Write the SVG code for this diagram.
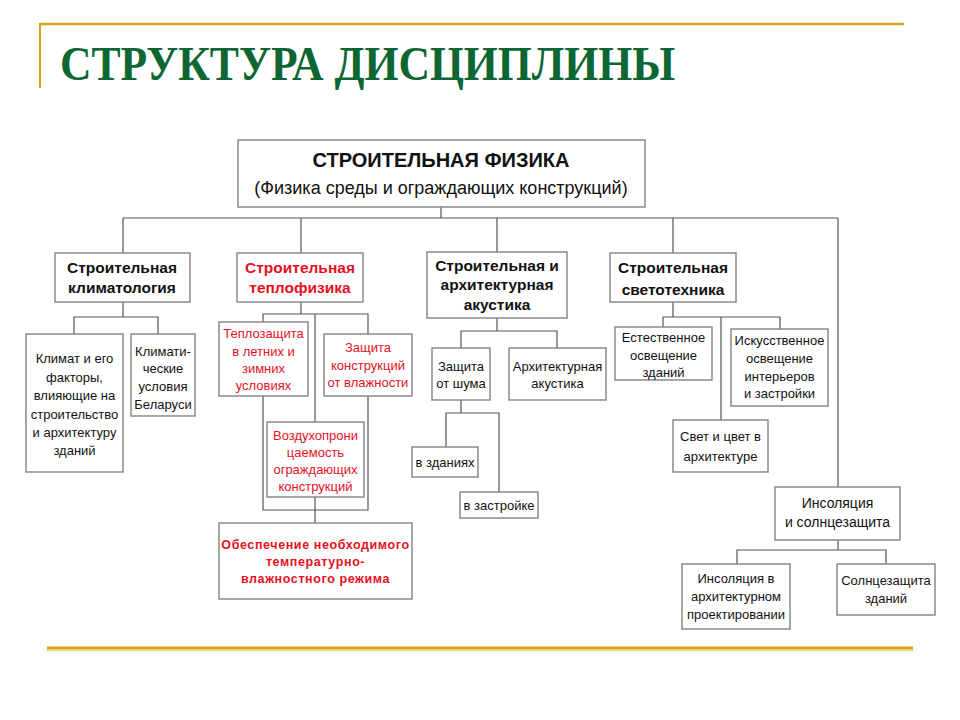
<svg xmlns="http://www.w3.org/2000/svg" width="960" height="720" viewBox="0 0 960 720">
<style>
.box{fill:#fff;stroke:#8a8a8a;stroke-width:1.5}
.t{font-family:"Liberation Sans",Arial,sans-serif;font-size:13px;fill:#111;text-anchor:middle}
.b{font-weight:bold;font-size:15.5px}
.r{fill:#e8101e}
.h1{font-weight:bold;font-size:20px}
.h2{font-size:18px}
.m{font-size:14px}
.rb{font-weight:bold;font-size:12.5px;letter-spacing:0.6px}
.c line,.c polyline{stroke:#555;stroke-width:1.2;fill:none}
</style>
<rect width="960" height="720" fill="#fff"/>
<g id="frame">
<line x1="40" y1="24" x2="904" y2="24" stroke="#d6a21e" stroke-width="2.5"/>
<line x1="40" y1="23" x2="40" y2="88" stroke="#d6a21e" stroke-width="2"/>
<line x1="47" y1="648" x2="913" y2="648" stroke="#d6a21e" stroke-width="3"/>
<line x1="47" y1="650.5" x2="913" y2="650.5" stroke="#f3dc7a" stroke-width="1.5"/>
<text x="60" y="80" font-family="'Liberation Serif','Times New Roman',serif" font-weight="bold" font-size="48" fill="#0d6633" textLength="615" lengthAdjust="spacingAndGlyphs">СТРУКТУРА ДИСЦИПЛИНЫ</text>
</g>
<g class="c" id="connectors">
<line x1="441" y1="207" x2="441" y2="218"/>
<line x1="123" y1="218" x2="838" y2="218"/>
<line x1="123" y1="218" x2="123" y2="253"/>
<line x1="301" y1="218" x2="301" y2="253"/>
<line x1="497" y1="218" x2="497" y2="252"/>
<line x1="673" y1="218" x2="673" y2="253"/>
<line x1="838" y1="218" x2="838" y2="487"/>
<line x1="123" y1="302" x2="123" y2="317"/>
<polyline points="74,334 74,317 158,317 158,334"/>
<line x1="301" y1="302" x2="301" y2="314"/>
<polyline points="263,322 263,314 368,314 368,334"/>
<line x1="315" y1="314" x2="315" y2="422"/>
<polyline points="263,396 263,510 368,510 368,396"/>
<line x1="315" y1="497" x2="315" y2="523"/>
<line x1="497" y1="318" x2="497" y2="331"/>
<polyline points="461,348 461,331 557,331 557,348"/>
<line x1="461" y1="400" x2="461" y2="413"/>
<polyline points="446,447 446,413 499,413 499,492"/>
<line x1="673" y1="302" x2="673" y2="317"/>
<polyline points="663,327 663,317 780,317 780,329"/>
<line x1="721" y1="317" x2="721" y2="420"/>
<line x1="838" y1="540" x2="838" y2="550"/>
<polyline points="737,564 737,550 886,550 886,564"/>
</g>
<g id="root">
<rect class="box" x="238" y="140" width="407" height="67"/>
<text class="t h1" x="441" y="167">СТРОИТЕЛЬНАЯ ФИЗИКА</text>
<text class="t h2" x="441" y="194">(Физика среды и ограждающих конструкций)</text>
</g>
<g id="klimat">
<rect class="box" x="55" y="253" width="135" height="49"/>
<text class="t b" x="122" y="273">Строительная</text>
<text class="t b" x="122" y="293">климатология</text>
</g>
<g id="klimat-factors">
<rect class="box" x="26" y="334" width="97" height="138"/>
<text class="t" x="74.5" y="363">Климат и его</text>
<text class="t" x="74.5" y="382">факторы,</text>
<text class="t" x="74.5" y="400">влияющие на</text>
<text class="t" x="74.5" y="419">строительство</text>
<text class="t" x="74.5" y="437">и архитектуру</text>
<text class="t" x="74.5" y="455">зданий</text>
</g>
<g id="klimat-by">
<rect class="box" x="131" y="334" width="64" height="82"/>
<text class="t" x="163" y="356">Климати-</text>
<text class="t" x="163" y="373">ческие</text>
<text class="t" x="163" y="391">условия</text>
<text class="t" x="163" y="409">Беларуси</text>
</g>
<g id="teplo">
<rect class="box" x="237" y="253" width="126" height="49"/>
<text class="t b r" x="300" y="273">Строительная</text>
<text class="t b r" x="300" y="293">теплофизика</text>
</g>
<g id="teplozashita">
<rect class="box" x="219" y="322" width="89" height="74"/>
<text class="t r" x="263.5" y="338">Теплозащита</text>
<text class="t r" x="263.5" y="356">в летних и</text>
<text class="t r" x="263.5" y="373">зимних</text>
<text class="t r" x="263.5" y="390">условиях</text>
</g>
<g id="vlaga">
<rect class="box" x="324" y="334" width="88" height="62"/>
<text class="t r" x="368" y="352">Защита</text>
<text class="t r" x="368" y="370">конструкций</text>
<text class="t r" x="368" y="387">от влажности</text>
</g>
<g id="vozduh">
<rect class="box" x="267" y="422" width="97" height="75"/>
<text class="t r" x="315.5" y="440">Воздухопрони</text>
<text class="t r" x="315.5" y="457">цаемость</text>
<text class="t r" x="315.5" y="474">ограждающих</text>
<text class="t r" x="315.5" y="491">конструкций</text>
</g>
<g id="rezhim">
<rect class="box" x="219" y="523" width="193" height="76"/>
<text class="t r rb" x="315.5" y="549">Обеспечение необходимого</text>
<text class="t r rb" x="315.5" y="566">температурно-</text>
<text class="t r rb" x="315.5" y="583">влажностного режима</text>
</g>
<g id="akustika">
<rect class="box" x="427" y="252" width="140" height="66"/>
<text class="t b" x="497" y="271">Строительная и</text>
<text class="t b" x="497" y="290">архитектурная</text>
<text class="t b" x="497" y="310">акустика</text>
</g>
<g id="shum">
<rect class="box" x="432" y="348" width="58" height="52"/>
<text class="t" x="461" y="371">Защита</text>
<text class="t" x="461" y="388">от шума</text>
</g>
<g id="arh-akustika">
<rect class="box" x="509" y="348" width="97" height="52"/>
<text class="t" x="557.5" y="371">Архитектурная</text>
<text class="t" x="557.5" y="388">акустика</text>
</g>
<g id="v-zdaniyah">
<rect class="box" x="412" y="447" width="66" height="30"/>
<text class="t" x="445" y="467">в зданиях</text>
</g>
<g id="v-zastroyke">
<rect class="box" x="460" y="492" width="78" height="26"/>
<text class="t" x="499" y="510">в застройке</text>
</g>
<g id="svet">
<rect class="box" x="610" y="253" width="126" height="49"/>
<text class="t b" x="673" y="273">Строительная</text>
<text class="t b" x="673" y="295">светотехника</text>
</g>
<g id="estestv">
<rect class="box" x="615" y="327" width="97" height="53"/>
<text class="t" x="663.5" y="342">Естественное</text>
<text class="t" x="663.5" y="360">освещение</text>
<text class="t" x="663.5" y="377">зданий</text>
</g>
<g id="iskusstv">
<rect class="box" x="731" y="329" width="97" height="77"/>
<text class="t" x="779.5" y="345">Искусственное</text>
<text class="t" x="779.5" y="363">освещение</text>
<text class="t" x="779.5" y="381">интерьеров</text>
<text class="t" x="779.5" y="398">и застройки</text>
</g>
<g id="svet-cvet">
<rect class="box" x="673" y="420" width="95" height="52"/>
<text class="t" x="720.5" y="441">Свет и цвет в</text>
<text class="t" x="720.5" y="461">архитектуре</text>
</g>
<g id="insolyaciya">
<rect class="box" x="775" y="487" width="125" height="53"/>
<text class="t m" x="837.5" y="508">Инсоляция</text>
<text class="t m" x="837.5" y="527">и солнцезащита</text>
</g>
<g id="ins-arh">
<rect class="box" x="682" y="564" width="108" height="65"/>
<text class="t" x="736" y="583">Инсоляция в</text>
<text class="t" x="736" y="601">архитектурном</text>
<text class="t" x="736" y="619">проектировании</text>
</g>
<g id="solnce">
<rect class="box" x="837" y="564" width="98" height="51"/>
<text class="t" x="886" y="585">Солнцезащита</text>
<text class="t" x="886" y="603">зданий</text>
</g>
</svg>
